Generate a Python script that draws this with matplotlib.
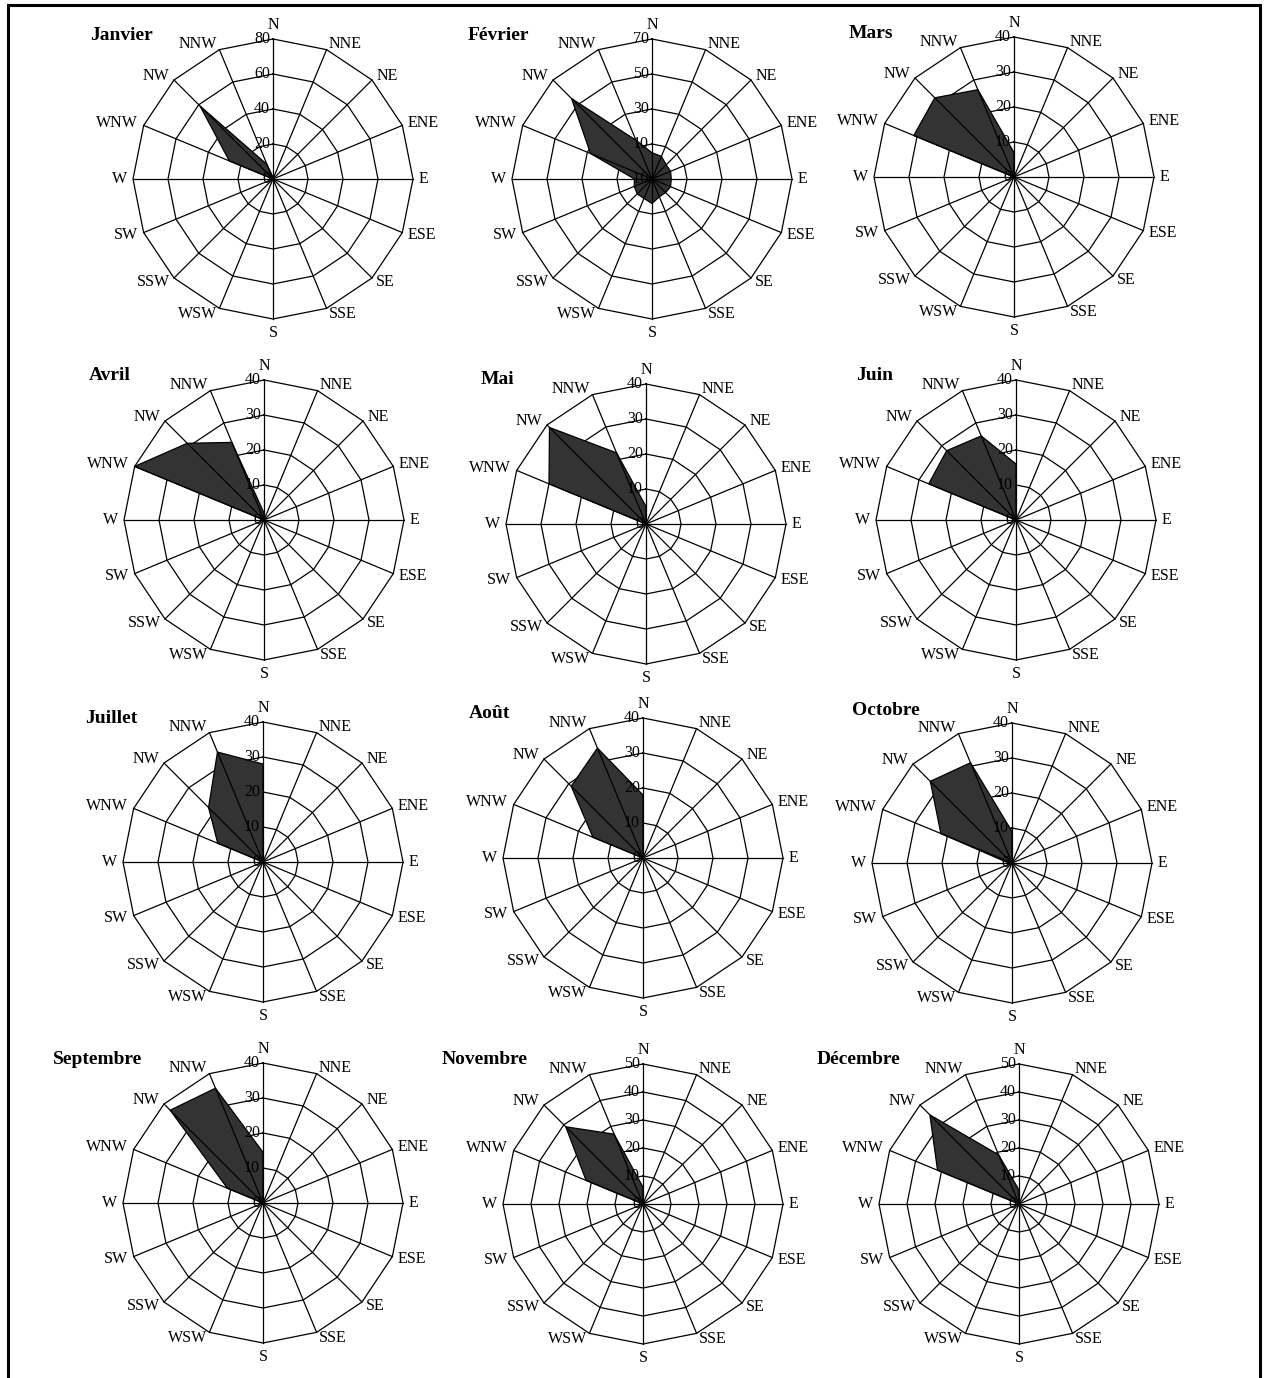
import numpy as np
import matplotlib.pyplot as plt

plt.rcParams['font.family'] = ['Liberation Serif', 'DejaVu Serif']

# direction labels as printed on the charts (clockwise from north)
directions = ['N', 'NNE', 'NE', 'ENE', 'E', 'ESE', 'SE', 'SSE',
              'S', 'WSW', 'SSW', 'SW', 'W', 'WNW', 'NW', 'NNW']

months = ['Janvier', 'Février', 'Mars', 'Avril', 'Mai', 'Juin',
          'Juillet', 'Août', 'Octobre', 'Septembre', 'Novembre', 'Décembre']

# frequencies per direction, same order as directions
janvier   = [1, 0, 0, 0, 0, 0, 0, 0, 0, 0, 0, 0, 0, 27, 59, 9]
fevrier   = [5, 4, 1.5, 1.5, 1, 1.5, 1, 1, 4, 2, 2, 1, 0, 28, 55, 14]
mars      = [7, 0, 0, 0, 0, 0, 0, 0, 0, 0, 0, 0, 0, 31, 32, 27]
avril     = [2, 0, 0, 0, 0, 0, 0, 0, 0, 0, 0, 0, 0, 40, 31, 24]
mai       = [5, 0, 0, 0, 0, 0, 0, 0, 0, 0, 0, 0, 0, 30, 39, 22]
juin      = [16, 0, 0, 0, 0, 0, 0, 0, 0, 0, 0, 0, 0, 27, 28, 26]
juillet   = [28, 0, 0, 0, 0, 0, 0, 0, 0, 0, 0, 0, 0, 14, 22, 34]
aout      = [18, 0, 0, 0, 0, 0, 0, 0, 0, 0, 0, 0, 0, 15.5, 29, 34]
octobre   = [9, 0, 0, 0, 0, 0, 0, 0, 0, 0, 0, 0, 1, 22, 33, 31]
septembre = [14.5, 0, 0, 0, 0, 0, 0, 0, 0, 0, 0, 0, 0, 11, 37.5, 35.5]
novembre  = [6, 0, 0, 0, 0, 0, 0, 0, 0, 0, 0, 0, 0, 22, 39, 27]
decembre  = [5, 0, 0, 0, 0, 0, 0, 0, 0, 0, 0, 0, 0, 31.5, 45, 19]

series = [janvier, fevrier, mars, avril, mai, juin,
          juillet, aout, octobre, septembre, novembre, decembre]

# radial axis of each chart
r_min  = [0, -10, 0, 0, 0, 0, 0, 0, 0, 0, 0, 0]
r_max  = [80, 70, 40, 40, 40, 40, 40, 40, 40, 40, 50, 50]
r_step = [20, 20, 10, 10, 10, 10, 10, 10, 10, 10, 10, 10]

# layout in pixels
W, H = 1267, 1378
centers = [(273, 179), (652, 179), (1014, 177),
           (264, 520), (646, 524), (1016, 520),
           (263, 862), (643, 858), (1012, 863),
           (263, 1203), (643, 1204), (1019, 1204)]
title_x = [90, 468, 849, 89, 481, 856, 85, 469, 852, 53, 442, 817]
title_dy = [144, 144, 144, 144, 144, 144, 144, 144, 152, 144, 144, 144]
R = 140     # outer radius in px
box = 200   # half size of each axes in px

fig = plt.figure(figsize=(W / 100, H / 100), dpi=100)

theta = np.deg2rad(np.arange(len(directions)) * 22.5)
s, c = np.sin(theta), np.cos(theta)

for i, vals in enumerate(series):
    cx, cy = centers[i]
    vmin, vmax, step = r_min[i], r_max[i], r_step[i]
    span = vmax - vmin
    px = span / R
    L = box * px
    ax = fig.add_axes([(cx - box) / W, 1 - (cy + box) / H, 2 * box / W, 2 * box / H])
    ax.set_xlim(-L, L)
    ax.set_ylim(-L, L)
    ax.axis('off')

    # rings
    for lev in np.arange(vmin + step, vmax + step / 2, step):
        r = lev - vmin
        ax.plot(np.append(r * s, r * s[0]), np.append(r * c, r * c[0]),
                color='black', lw=0.9, zorder=1)

    # data
    r = np.array(vals, dtype=float) - vmin
    ax.fill(r * s, r * c, facecolor='#333333', edgecolor='black', lw=0.9, zorder=2)

    # spokes
    for k in range(len(directions)):
        ax.plot([0, span * s[k]], [0, span * c[k]], color='black', lw=0.9, zorder=3)

    # radial tick labels along north spoke
    for lev in np.arange(vmin, vmax + step / 2, step):
        ax.text(-3 * px, lev - vmin, f'{lev:g}', ha='right', va='center',
                fontsize=11.5, zorder=4)

    # direction labels
    for k, lab in enumerate(directions):
        if abs(s[k]) < 0.1:
            ha = 'center'
            va = 'bottom' if c[k] > 0 else 'top'
        else:
            ha = 'left' if s[k] > 0 else 'right'
            va = 'center'
        ax.text((span + 6 * px) * s[k], (span + 6 * px) * c[k], lab,
                ha=ha, va=va, fontsize=11.5, clip_on=False)

    fig.text(title_x[i] / W, 1 - (cy - title_dy[i]) / H, months[i], ha='left',
             va='center', fontsize=14, fontweight='bold')

# outer frame
fig.add_artist(plt.Rectangle((8 / W, -0.01), (1260 - 8) / W, 1 - 5 / H + 0.01,
                             transform=fig.transFigure, fill=False,
                             edgecolor='black', lw=2.2))

fig.savefig('out.png', dpi=100)
